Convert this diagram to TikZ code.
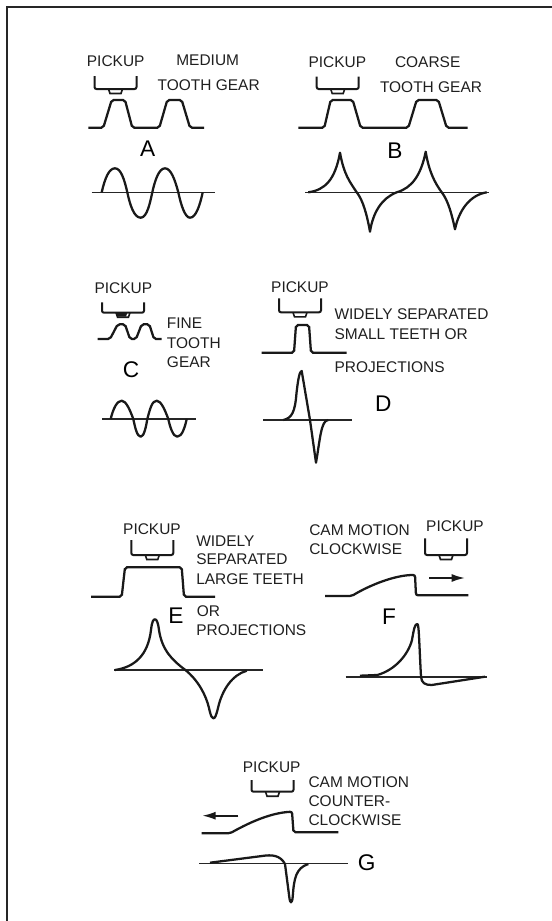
\documentclass[tikz,border=0pt]{standalone}
\usepackage{fontspec}
\setmainfont{Liberation Sans}
\usetikzlibrary{arrows.meta}
\tikzset{
  lbl/.style={font=\fontsize{11.6}{13}\selectfont, inner sep=0pt, text=black!88},
  lblw/.style={lbl, anchor=west},
  tag/.style={font=\fontsize{17}{19}\selectfont, inner sep=0pt},
  axisline/.style={line width=1.2pt, black!85},
  wave/.style={line width=1.7pt, line join=round, black!90},
  profile/.style={line width=1.7pt, rounded corners=1.5pt, black!90},
  motion/.style={line width=1.3pt, black!90, -{Latex[length=10pt,width=6pt]}},
  pickupbox/.pic={
    \draw[line width=1.5pt, rounded corners=1.5pt, black!90] (-21,0) -- (-21,#1) -- (21,#1) -- (21,0);
    \draw[line width=1.2pt, black!90] (-7,#1) -- (-5.5,#1+4.5) -- (5.5,#1+4.5) -- (7,#1);
  }
}
\begin{document}
\begin{tikzpicture}[x=0.75pt, y=-0.75pt]
  \useasboundingbox (0,0) rectangle (552,921);

  % frame
  \draw[line width=1.5pt, black!85] (6.5,921) -- (6.5,7) -- (552,7);

  % A: medium teeth
  \node[lbl] (pickA) at (115.7,60.7) {PICKUP};
  \node[lbl] (medium) at (207.7,60.7) {MEDIUM};
  \node[lbl] (gearA) at (208.7,85) {TOOTH GEAR};
  \node[tag] (tagA) at (147.7,148.3) {A};
  \pic at (115.5,76) {pickupbox=13};
  \draw[profile] (88.3,127.7) -- (103.3,127.7) -- (111.7,100) -- (125,100) -- (132.3,127.7)
    -- (159.3,127.7) -- (167.3,100) -- (181.7,100) -- (190,127.7) -- (204,127.7);
  \draw[axisline] (91.7,192.3) -- (215,192.3);
  \draw[wave] (101.7,192.3) .. controls (105,178) and (109,168.3) .. (115,168.3)
    .. controls (121,168.3) and (124.5,180) .. (127.3,192.3)
    .. controls (130,205) and (134,217.7) .. (140.7,217.7)
    .. controls (147,217.7) and (150,203) .. (152.3,192.3)
    .. controls (155,180) and (159,168.3) .. (165,168.3)
    .. controls (171,168.3) and (175,180) .. (178.3,192.3)
    .. controls (181,205) and (185,217.7) .. (190,217.7)
    .. controls (196,217.7) and (200,205) .. (202.7,192.3);

  % B: coarse teeth
  \node[lbl] (pickB) at (337.3,61.7) {PICKUP};
  \node[lbl] (coarse) at (427.7,61.7) {COARSE};
  \node[lbl] (gearB) at (431,86.7) {TOOTH GEAR};
  \node[tag] (tagB) at (395,150.7) {B};
  \pic at (337.7,76.7) {pickupbox=12.3};
  \draw[profile] (298.3,127.7) -- (324.3,127.7) -- (330.7,100) -- (352.7,100) -- (360.7,127.7)
    -- (408.3,127.7) -- (416.7,100) -- (438.3,100) -- (446.7,127.7) -- (467.7,127.7);
  \draw[axisline] (305,192.3) -- (489,192.3);
  \draw[wave] (308.3,192.3) .. controls (325,190) and (335,180) .. (340,152.7)
    .. controls (344,175) and (350,182) .. (356.7,192.3)
    .. controls (363,200) and (367,215) .. (370,231.7)
    .. controls (373,212) and (382,198) .. (396.7,192.3)
    .. controls (412,188) and (421,175) .. (425.7,151.7)
    .. controls (429,172) and (435,183) .. (441.7,192.3)
    .. controls (448,200) and (452,215) .. (455,229.3)
    .. controls (459,210) and (470,195) .. (486.7,192.3);

  % C: fine teeth
  \node[lbl] (pickC) at (123.3,288.3) {PICKUP};
  \node[lblw] (fine) at (166.7,322.7) {FINE};
  \node[lblw] (toothC) at (166.7,342.7) {TOOTH};
  \node[lblw] (gearC) at (166.7,362.3) {GEAR};
  \node[tag] (tagC) at (131,369.3) {C};
  \pic at (123,302.3) {pickupbox=10.4};
  \fill[black!90] (115.7,312.7) -- (117,316.5) -- (126,316.5) -- (127.3,312.7) -- cycle;
  \draw[profile] (97.7,339) -- (110,339) -- (117.7,324.3) -- (125,324.3) -- (130,339)
    -- (136,339) -- (141.7,324.3) -- (149.3,324.3) -- (154,339) -- (161.7,339);
  \draw[axisline] (102.3,419) -- (195.7,419);
  \draw[wave] (110.7,419) .. controls (113,409) and (117,400.7) .. (121.7,400.7)
    .. controls (126,400.7) and (130,410) .. (133.3,419)
    .. controls (135,427) and (137,436.7) .. (140.7,436.7)
    .. controls (144,436.7) and (146,427) .. (147.3,419)
    .. controls (150,409) and (152,400.7) .. (156.7,400.7)
    .. controls (161,400.7) and (165,410) .. (168.3,419)
    .. controls (170,427) and (173,436.7) .. (177.3,436.7)
    .. controls (182,436.7) and (185,427) .. (186.7,419);

  % D: small teeth
  \node[lbl] (pickD) at (300,287.3) {PICKUP};
  \node[lblw] (widelyD) at (334.3,314.3) {WIDELY SEPARATED};
  \node[lblw] (smallD) at (334.3,334.3) {SMALL TEETH OR};
  \node[lblw] (projD) at (334.3,367.3) {PROJECTIONS};
  \node[tag] (tagD) at (383.3,403.3) {D};
  \pic at (300,298.3) {pickupbox=14};
  \draw[profile] (261.7,352.7) -- (294,352.7) -- (296,325) -- (309,325) -- (311,352.7) -- (346.7,352.7);
  \draw[axisline] (263.3,420) -- (351.7,420);
  \draw[wave] (283.3,420) .. controls (292,418) and (295,412) .. (296.5,393)
    .. controls (298,380) and (299.5,371) .. (301.7,371) -- (310,420) -- (316,462.7)
    .. controls (320,440) and (321,420) .. (328.3,420);

  % E: large teeth
  \node[lbl] (pickE) at (152,529) {PICKUP};
  \node[lblw] (widelyE) at (196,540.7) {WIDELY};
  \node[lblw] (sepE) at (196,559.3) {SEPARATED};
  \node[lblw] (largeE) at (196,578.7) {LARGE TEETH};
  \node[lblw] (orE) at (196.5,610.7) {OR};
  \node[lblw] (projE) at (196,630) {PROJECTIONS};
  \node[tag] (tagE) at (176,615.3) {E};
  \pic at (152.3,540) {pickupbox=15};
  \draw[profile] (91,596.7) -- (121.7,596.7) -- (125,567.3) -- (181.7,567.3) -- (184,596.7) -- (215,596.7);
  \draw[axisline] (114.3,669.7) -- (262.7,669.7);
  \draw[wave] (115,670) .. controls (135,667) and (148,655) .. (151,630)
    .. controls (152,621) and (153.5,619.3) .. (155,619.3)
    .. controls (156.5,619.3) and (158,622) .. (159,630)
    .. controls (162,650) and (172,660) .. (185,669.7)
    .. controls (198,680) and (206,695) .. (209,708)
    .. controls (211,717) and (212,718.3) .. (213.3,718.3)
    .. controls (215,718.3) and (216,716) .. (218,708)
    .. controls (222,690) and (232,675) .. (246.7,670.7);

  % F: cam, clockwise
  \node[lblw] (camF) at (309,530) {CAM MOTION};
  \node[lblw] (clockF) at (309,548.7) {CLOCKWISE};
  \node[lbl] (pickF) at (455,525.7) {PICKUP};
  \node[tag] (tagF) at (389,616.7) {F};
  \pic at (446,538.3) {pickupbox=16.7};
  \draw[profile] (325,596) -- (351.7,596) .. controls (370,585) and (395,575) .. (415,575)
    -- (416,595.3) -- (468.3,595.3);
  \coordinate (motionFa) at (429,578);
  \coordinate (motionFb) at (465,578);
  \draw[motion] (motionFa) -- (motionFb);
  \draw[axisline] (345.7,676.7) -- (486.7,676.7);
  \draw[wave] (360,675.7) -- (377.3,675) .. controls (395,670) and (408,655) .. (412,640)
    .. controls (414,628) and (415,624) .. (417.3,624)
    .. controls (419,624) and (419,640) .. (421,676.7)
    .. controls (421.5,683) and (425,685) .. (431.7,685) -- (485,676.7);

  % G: cam, counter-clockwise
  \node[lbl] (pickG) at (271.7,766.7) {PICKUP};
  \node[lblw] (camG) at (308.3,781.7) {CAM MOTION};
  \node[lblw] (counterG) at (308.3,801) {COUNTER-};
  \node[lblw] (clockG) at (308.3,820) {CLOCKWISE};
  \node[tag] (tagG) at (366.7,862.3) {G};
  \pic at (272.5,780) {pickupbox=11.7};
  \draw[profile] (201.7,833.3) -- (230,833.3) .. controls (245,825) and (268,813) .. (292,811.7)
    -- (293.5,832.3) -- (338.3,832.3);
  \coordinate (motionGa) at (238.3,815.7);
  \coordinate (motionGb) at (202.3,815.7);
  \draw[motion] (motionGa) -- (motionGb);
  \draw[axisline] (199.3,863.3) -- (348.3,863.3);
  \draw[wave] (210,862.7) -- (262,856) .. controls (272,854.5) and (280,855) .. (285,864)
    -- (289.3,897) .. controls (290,904) and (292,904) .. (292.7,897)
    .. controls (294,878) and (296,868) .. (308.3,864);
\end{tikzpicture}
\end{document}
